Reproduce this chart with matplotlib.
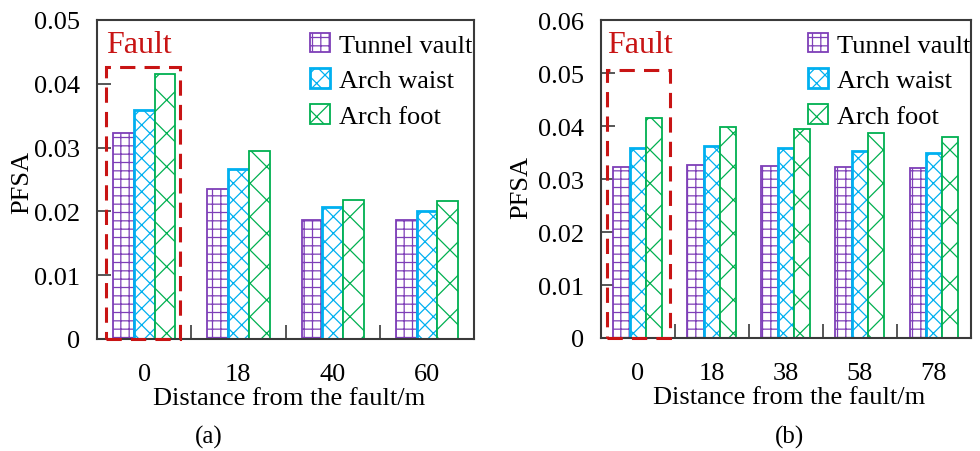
import numpy as np
import matplotlib
matplotlib.use("Agg")
import matplotlib.pyplot as plt
from matplotlib.patches import Rectangle

# ============================================
# DATA
# ============================================
series = ["Tunnel vault", "Arch waist", "Arch foot"]

dist_a = ["0", "18", "40", "60"]
vault_a = [0.0323, 0.0235, 0.0187, 0.0187]
waist_a = [0.0359, 0.0267, 0.0207, 0.0201]
foot_a = [0.0416, 0.0294, 0.0218, 0.0217]

dist_b = ["0", "18", "38", "58", "78"]
vault_b = [0.0322, 0.0326, 0.0325, 0.0323, 0.0320]
waist_b = [0.0359, 0.0362, 0.0359, 0.0353, 0.0350]
foot_b = [0.0416, 0.0399, 0.0394, 0.0386, 0.0380]

# ============================================
# STYLE
# ============================================
plt.rcParams["font.family"] = ["Liberation Serif", "DejaVu Serif"]
plt.rcParams["hatch.linewidth"] = 0.9

colors = ["#7E3FB8", "#00B0F0", "#00B050"]
hatches = ["++", "xx", "x"]
edge_lw = [1.3, 2.0, 1.3]
fault_red = "#C81414"
spine_col = "#3A3A3A"

fig = plt.figure(figsize=(9.8, 4.52), dpi=100)
ax_a = fig.add_axes([0.099, 0.2478, 0.3847, 0.7058])
ax_b = fig.add_axes([0.613, 0.250, 0.3778, 0.7035])


def draw_panel(ax, cats, vals, ymax, fault_box, fault_text_y, leg_x, ylab_x, ylab_y):
    x = np.arange(len(cats))
    w = 0.22
    for i, (name, v) in enumerate(zip(series, vals)):
        ax.bar(x + (i - 1) * w, v, w, facecolor="white", edgecolor=colors[i],
               hatch=hatches[i], linewidth=edge_lw[i], label=name, zorder=2)

    ax.set_xlim(-0.5, len(cats) - 0.5)
    ax.set_ylim(0, ymax)
    ax.set_yticks(np.arange(0, ymax + 1e-9, 0.01))
    ax.set_yticklabels(["0"] + ["%.2f" % t for t in np.arange(0.01, ymax + 1e-9, 0.01)])
    ax.set_xticks(x)
    ax.set_xticklabels(cats)
    ax.set_xticks(np.arange(0.5, len(cats) - 0.5, 1), minor=True)

    ax.tick_params(axis="y", direction="in", length=10, width=1.2, pad=12,
                   labelsize=19, color=spine_col, right=False)
    ax.tick_params(axis="x", which="major", direction="in", length=3, width=1.2,
                   pad=17, labelsize=19, color=spine_col, top=False)
    ax.tick_params(axis="x", which="minor", direction="in", length=10, width=1.2,
                   color=spine_col, top=False)
    for s in ax.spines.values():
        s.set_color(spine_col)
        s.set_linewidth(1.5)

    ax.set_xlabel("Distance from the fault/m", fontsize=19)
    ax.xaxis.set_label_coords(0.51, -0.152)
    ax.set_ylabel("PFSA", fontsize=19)
    ax.yaxis.set_label_coords(ylab_x, ylab_y)

    # fault box around the first group
    x0, x1, top = fault_box
    ax.add_patch(Rectangle((x0, 0), x1 - x0, top, fill=False,
                           edgecolor=fault_red, linestyle=(0, (5, 3)),
                           linewidth=2.2, zorder=5, clip_on=False))
    ax.text(x0, fault_text_y, "Fault", color=fault_red, fontsize=23,
            ha="left", va="center")

    ax.legend(loc="upper left", bbox_to_anchor=(leg_x, 0.96), frameon=False,
              fontsize=19, handlelength=0.75, handleheight=0.75,
              handletextpad=0.35, labelspacing=0.45, borderpad=0,
              borderaxespad=0)


draw_panel(ax_a, dist_a, [vault_a, waist_a, foot_a], 0.05,
           (-0.405, 0.38, 0.0426), 0.0461, 0.565, -0.17, 0.495)
draw_panel(ax_b, dist_b, [vault_b, waist_b, foot_b], 0.06,
           (-0.42, 0.435, 0.0506), 0.0553, 0.560, -0.186, 0.475)

fig.text(0.2125, 0.032, "(a)", fontsize=18, ha="center", va="center")
fig.text(0.806, 0.032, "(b)", fontsize=18, ha="center", va="center")

fig.savefig("out.png", dpi=100)
